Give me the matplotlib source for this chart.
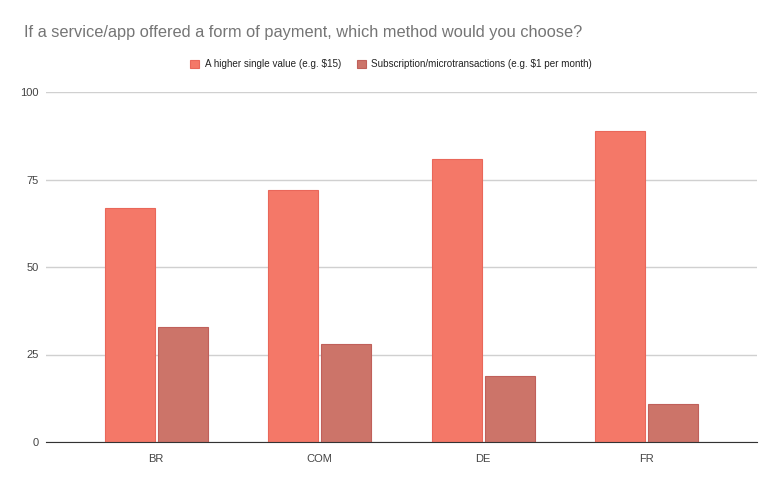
import numpy as np
import matplotlib
matplotlib.use('Agg')
from matplotlib import pyplot as plt

plt.rcParams['font.family'] = ['Liberation Sans', 'DejaVu Sans']

categories = ['BR', 'COM', 'DE', 'FR']
single_value = [67, 72, 81, 89]
subscription = [33, 28, 19, 11]
series_names = ['A higher single value (e.g. $15)',
                'Subscription/microtransactions (e.g. $1 per month)']
title = 'If a service/app offered a form of payment, which method would you choose?'

fig = plt.figure(figsize=(7.82, 4.83), dpi=100)
ax = fig.add_axes([46/782, 41/483, 711/782, 350/483])

x = np.arange(len(categories))
w = 0.306
off = 0.162
ax.bar(x - off, single_value, w, color='#f47868', edgecolor='#e9675a', linewidth=0.8,
       label=series_names[0], zorder=3)
ax.bar(x + off, subscription, w, color='#cc7469', edgecolor='#c0605a', linewidth=0.8,
       label=series_names[1], zorder=3)

ax.set_xlim(-0.673, 3.673)
ax.set_ylim(0, 100)
ax.set_yticks([0, 25, 50, 75, 100])
ax.set_xticks(x)
ax.set_xticklabels(categories)
ax.tick_params(axis='both', length=0, labelsize=8, colors='#444444')
ax.tick_params(axis='x', pad=9)
ax.tick_params(axis='y', pad=5)
ax.grid(axis='y', color='#d0d0d0', linewidth=1, zorder=0)
for s in ['top', 'right', 'left']:
    ax.spines[s].set_visible(False)
ax.spines['bottom'].set_color('#333333')
ax.spines['bottom'].set_zorder(4)

fig.text(24/782, 1 - 33/483, title, fontsize=11.8, color='#757575', va='center', ha='left')
fig.legend(loc='center', bbox_to_anchor=(0.5, 1 - 64/483), ncol=2, frameon=False,
           fontsize=7.1, handlelength=0.9, handleheight=0.9, columnspacing=1.6,
           handletextpad=0.6, labelcolor='#222222')

fig.savefig('out.png', dpi=100)
